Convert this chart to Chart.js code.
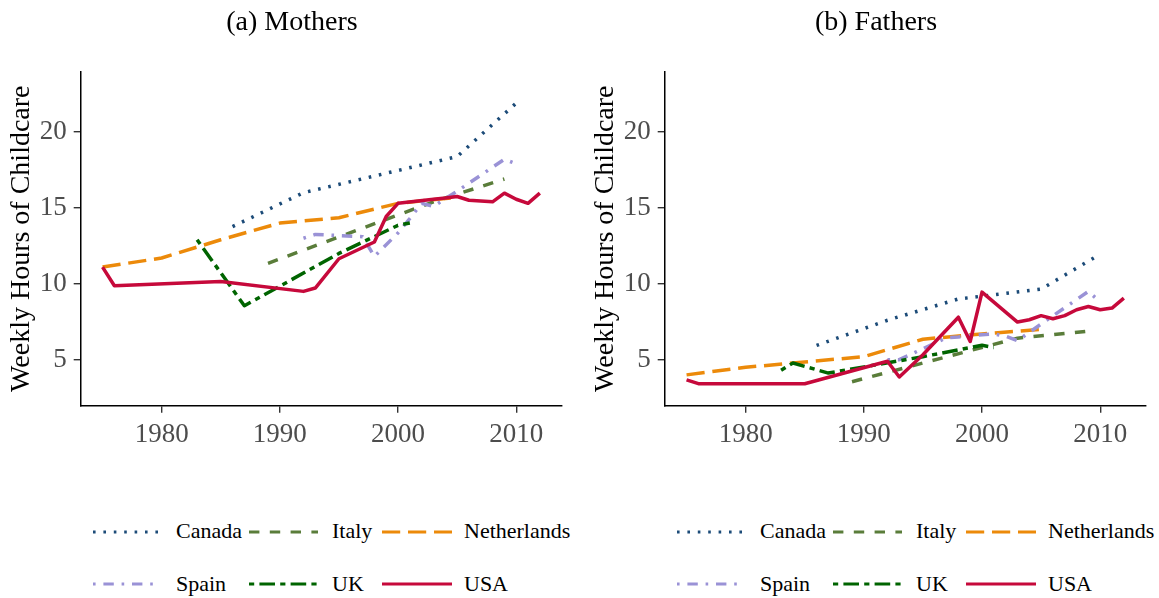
<!DOCTYPE html>
<html>
<head>
<meta charset="utf-8">
<script src="https://cdn.jsdelivr.net/npm/chart.js@4/dist/chart.umd.min.js"></script>
<style>
  html, body { margin:0; padding:0; background:#fff; width:1159px; height:598px; overflow:hidden; }
  body { position:relative; font-family:'Liberation Serif','Times New Roman',serif; }
  canvas { position:absolute; top:0; }
  .title { position:absolute; top:4px; width:300px; text-align:center; font-size:28px; line-height:34px; color:#000; }
  .lg { position:absolute; font-size:22px; line-height:26px; color:#000; white-space:nowrap; }
  svg.ls { position:absolute; overflow:visible; }
</style>
</head>
<body>
<canvas id="cM" width="575" height="470" style="left:0px;width:575px;height:470px"></canvas>
<canvas id="cF" width="575" height="470" style="left:584px;width:575px;height:470px"></canvas>
<div class="title" style="left:142px">(a) Mothers</div>
<div class="title" style="left:726px">(b) Fathers</div>
<div id="legends"></div>
<script>
// ---- data ----
const countries = ['Canada', 'Italy', 'Netherlands', 'Spain', 'UK', 'USA'];

const yearsCanada = [1986, 1992, 1998, 2005, 2010];
const mothersCanada = [13.77, 16.0, 17.1, 18.38, 21.9];
const fathersCanada = [5.94, 7.6, 9.0, 9.65, 11.95];

const yearsItaly = [1989, 2003, 2009];
const mothersItaly = [11.35, 15.4, 16.9];
const fathersItaly = [3.55, 6.42, 6.88];

const yearsNetherlands = [1975, 1980, 1985, 1990, 1995, 2000, 2005];
const mothersNetherlands = [11.1, 11.7, 12.9, 14.0, 14.35, 15.3, 15.7];
const fathersNetherlands = [4.0, 4.5, 4.85, 5.2, 6.35, 6.7, 7.0];

const yearsSpain = [1992, 1993, 1997, 1998, 2000, 2001, 2002, 2003, 2005, 2009, 2010];
const mothersSpain = [13.0, 13.25, 13.1, 11.8, 13.35, 14.3, 15.3, 15.1, 16.1, 18.2, 17.9];
const fathersSpain = [5.0, 5.0, 6.45, 6.5, 6.65, 6.7, 6.55, 6.25, 7.35, 9.5, 8.8];

const yearsUK = [1983, 1984, 1985, 1987, 1995, 2000, 2001];
const mothersUK = [12.9, null, null, 8.55, 12.0, 13.85, 14.0];
const fathersUK = [4.3, 4.78, 4.56, 4.12, 5.2, 5.95, 5.8];

const yearsUSA = [1975, 1976, 1985, 1992, 1993, 1995, 1998, 1999, 2000, 2003, 2004, 2005, 2006, 2007, 2008, 2009, 2010, 2011, 2012];
const mothersUSA = [11.1, 9.87, 10.15, 9.5, 9.72, 11.65, 12.75, 14.43, 15.3, 15.57, 15.65, 15.75, 15.5, 15.45, 15.4, 15.97, 15.57, 15.3, 15.97];
const fathersUSA = [3.67, 3.42, 3.42, 4.9, 3.86, 5.33, 7.8, 6.2, 9.45, 7.48, 7.63, 7.9, 7.7, 7.9, 8.29, 8.5, 8.29, 8.4, 9.06];

const xTickLabels = [1980, 1990, 2000, 2010];
const yTickLabels = [5, 10, 15, 20];

// ---- styles ----
const U = 2.6;
const styles = {
  Canada:      { color: '#1c4b78', dash: [U, 3*U] },
  Italy:       { color: '#5a7d3a', dash: [4*U, 4*U] },
  Netherlands: { color: '#ec8a0a', dash: [7*U, 3*U] },
  Spain:       { color: '#9a92d6', dash: [U, 3*U, 4*U, 3*U] },
  UK:          { color: '#006400', dash: [2*U, 2*U, 6*U, 2*U] },
  USA:         { color: '#c6093b', dash: [] }
};
const LW = 3.5;
const FONT = "'Liberation Serif','Times New Roman',serif";

const panelData = {
  mothers: {
    Canada: [yearsCanada, mothersCanada], Italy: [yearsItaly, mothersItaly],
    Netherlands: [yearsNetherlands, mothersNetherlands], Spain: [yearsSpain, mothersSpain],
    UK: [yearsUK, mothersUK], USA: [yearsUSA, mothersUSA]
  },
  fathers: {
    Canada: [yearsCanada, fathersCanada], Italy: [yearsItaly, fathersItaly],
    Netherlands: [yearsNetherlands, fathersNetherlands], Spain: [yearsSpain, fathersSpain],
    UK: [yearsUK, fathersUK], USA: [yearsUSA, fathersUSA]
  }
};

function makeChart(id, key) {
  const datasets = countries.map((c, i) => {
    const [yrs, vals] = panelData[key][c];
    return {
      label: c,
      data: yrs.map((y, j) => ({ x: y, y: vals[j] })),
      borderColor: styles[c].color,
      backgroundColor: styles[c].color,
      borderWidth: LW,
      borderDash: styles[c].dash,
      borderCapStyle: 'butt',
      borderJoinStyle: 'round',
      pointRadius: 0,
      tension: 0,
      spanGaps: true,
      fill: false,
      order: countries.length - i
    };
  });
  return new Chart(document.getElementById(id), {
    type: 'line',
    data: { datasets },
    options: {
      responsive: false,
      animation: false,
      events: [],
      layout: { padding: { left: 0, right: 13.3, top: 71.7, bottom: 0 } },
      plugins: { legend: { display: false }, tooltip: { enabled: false }, title: { display: false } },
      scales: {
        x: {
          type: 'linear', min: 1973.15, max: 2013.85,
          afterBuildTicks: s => { s.ticks = xTickLabels.map(v => ({ value: v })); },
          afterFit: s => { s.height = 470 - 405.7; },
          ticks: { font: { family: FONT, size: 27 }, color: '#4d4d4d', padding: 6, maxRotation: 0,
                   callback: v => String(v) },
          grid: { drawOnChartArea: false, drawTicks: true, tickLength: 7, color: '#333333', lineWidth: 1.4 },
          border: { display: true, color: '#000', width: 1.5 }
        },
        y: {
          type: 'linear', min: 1.97, max: 23.97,
          afterBuildTicks: s => { s.ticks = yTickLabels.map(v => ({ value: v })); },
          afterFit: s => { s.width = 80.7; },
          title: { display: true, text: 'Weekly Hours of Childcare', color: '#000',
                   font: { family: FONT, size: 28 }, padding: { top: 5, bottom: 0 } },
          ticks: { font: { family: FONT, size: 27 }, color: '#4d4d4d', padding: 7,
                   callback: v => String(v) },
          grid: { drawOnChartArea: false, drawTicks: true, tickLength: 7, color: '#333333', lineWidth: 1.4 },
          border: { display: true, color: '#000', width: 1.5 }
        }
      }
    }
  });
}

makeChart('cM', 'mothers');
makeChart('cF', 'fathers');

// ---- legends (HTML) ----
const legendRows = [['Canada', 'Italy', 'Netherlands'], ['Spain', 'UK', 'USA']];
const legendCols = [{ s: 93, e: 160, t: 176 }, { s: 249, e: 318, t: 332 }, { s: 382, e: 452, t: 464 }];
const legendRowY = [531.5, 583.5];
const legendTextTop = [518, 570.5];
const host = document.getElementById('legends');
[0, 584].forEach(off => {
  legendRows.forEach((row, r) => {
    row.forEach((c, k) => {
      const col = legendCols[k];
      const w = col.e - col.s;
      const svg = document.createElementNS('http://www.w3.org/2000/svg', 'svg');
      svg.setAttribute('class', 'ls');
      svg.setAttribute('width', w);
      svg.setAttribute('height', 10);
      svg.style.left = (off + col.s) + 'px';
      svg.style.top = (legendRowY[r] - 5) + 'px';
      const ln = document.createElementNS('http://www.w3.org/2000/svg', 'line');
      ln.setAttribute('x1', 0); ln.setAttribute('x2', w);
      ln.setAttribute('y1', 5); ln.setAttribute('y2', 5);
      ln.setAttribute('stroke', styles[c].color);
      ln.setAttribute('stroke-width', 3.2);
      if (styles[c].dash.length) ln.setAttribute('stroke-dasharray', styles[c].dash.join(' '));
      svg.appendChild(ln);
      host.appendChild(svg);
      const d = document.createElement('div');
      d.className = 'lg';
      d.textContent = c;
      d.style.left = (off + col.t) + 'px';
      d.style.top = legendTextTop[r] + 'px';
      host.appendChild(d);
    });
  });
});
</script>
</body>
</html>
